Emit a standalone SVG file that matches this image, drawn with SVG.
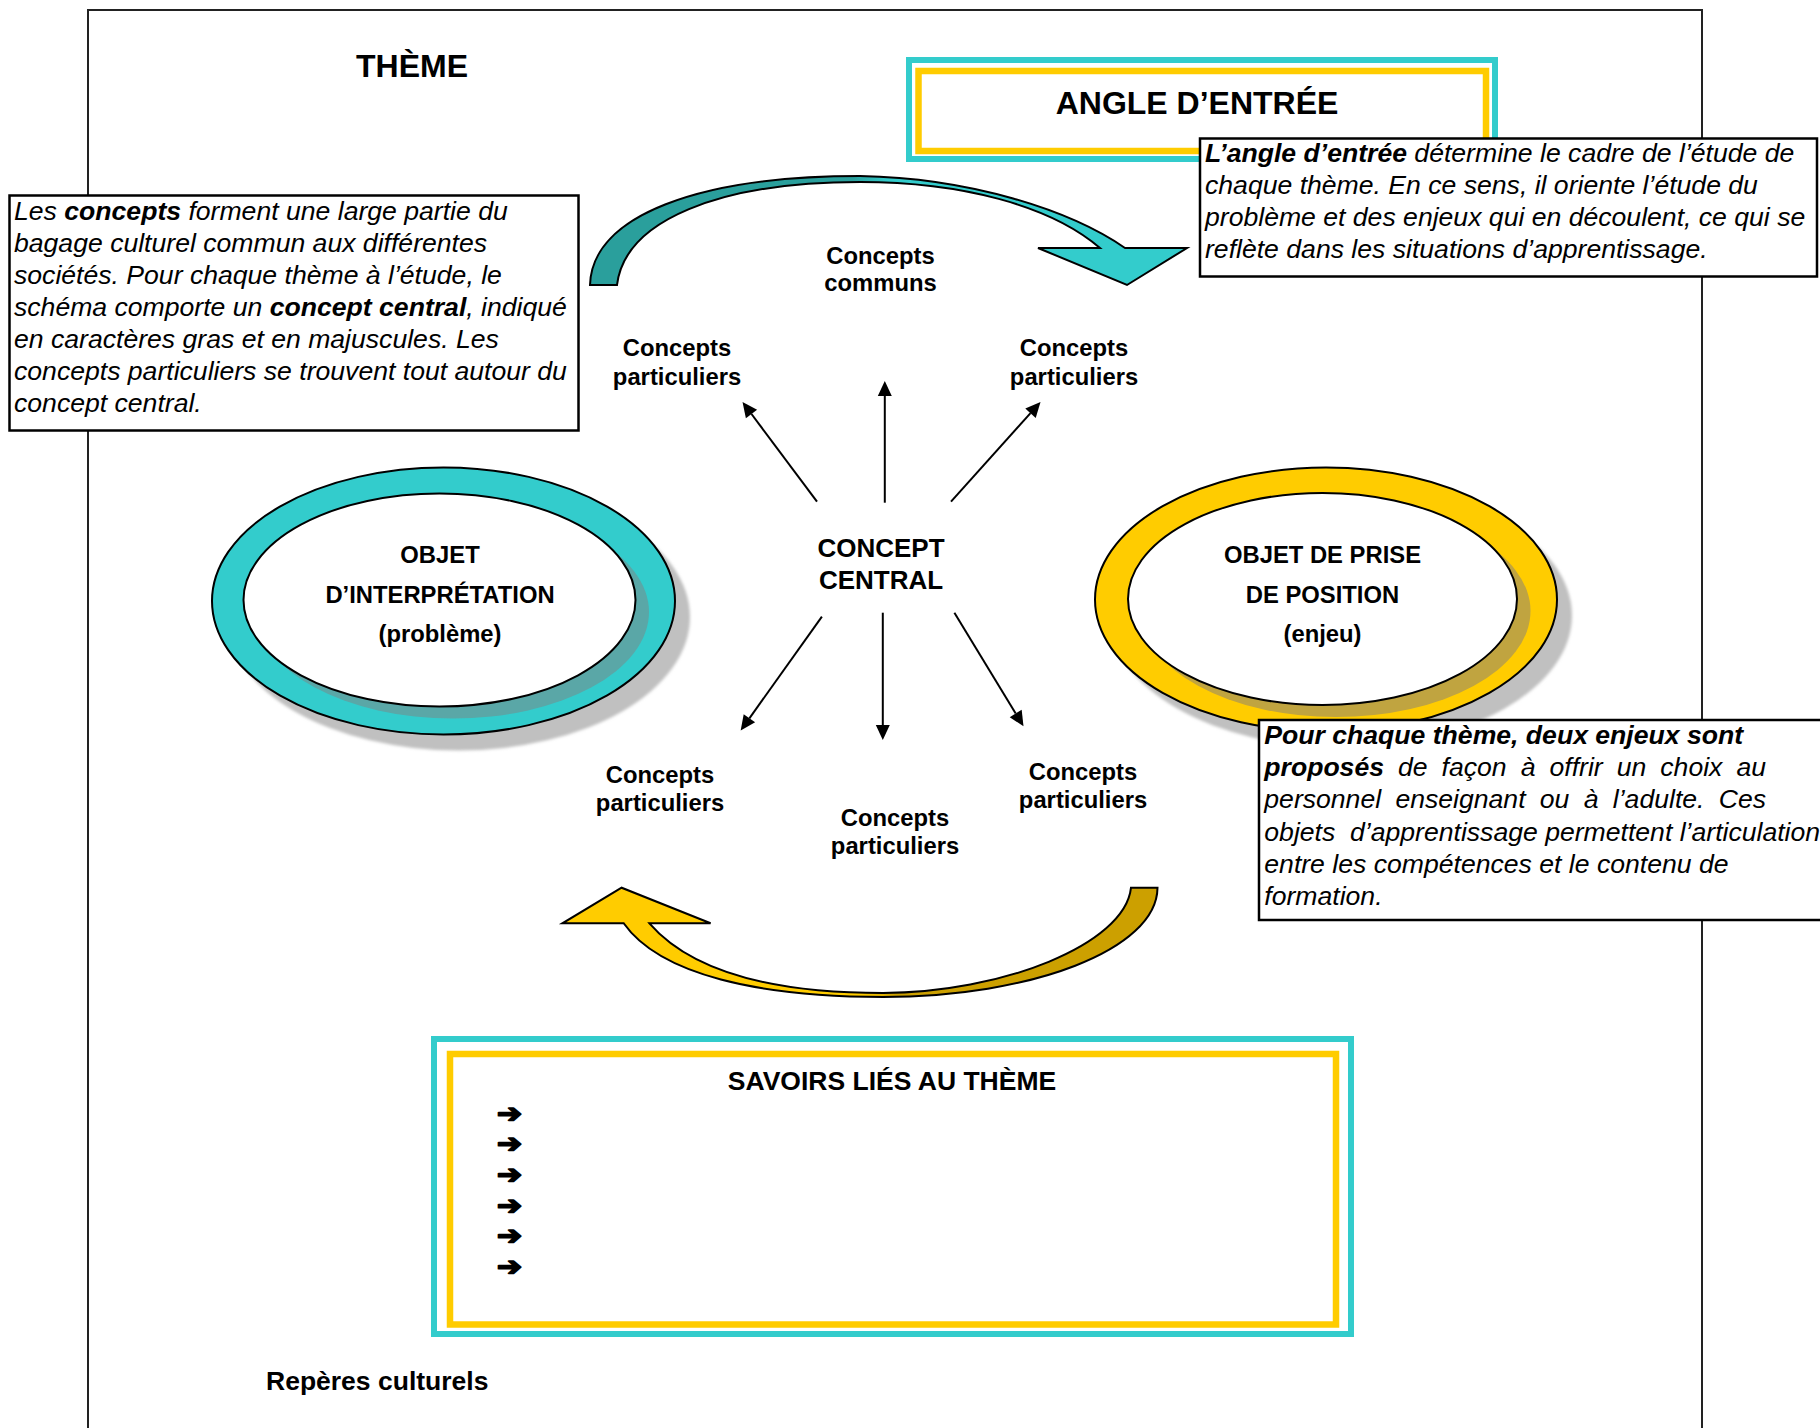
<svg xmlns="http://www.w3.org/2000/svg" width="1820" height="1428" viewBox="0 0 1820 1428">
<style>
.body{font-family:"Liberation Sans",Arial,sans-serif;font-style:italic;font-size:26.6px;fill:#000}
.b{font-weight:bold}
.lbl{font-family:"Liberation Sans",Arial,sans-serif;font-weight:bold;font-size:23.8px;fill:#000;text-anchor:middle}
.big{font-family:"Liberation Sans",Arial,sans-serif;font-weight:bold;font-size:32px;fill:#000;text-anchor:middle}
.h2{font-family:"Liberation Sans",Arial,sans-serif;font-weight:bold;font-size:26.5px;fill:#000}
.box{fill:#fff;stroke:#000;stroke-width:2.5}
.cyanf{fill:none;stroke:#33CCCC;stroke-width:6}
.yelf{fill:none;stroke:#FFCC00;stroke-width:6.5}
.ring{stroke:#000;stroke-width:2}
.conn{stroke:#000;stroke-width:2;fill:none;marker-end:url(#ah)}
.bul{font-family:"DejaVu Sans",sans-serif;font-weight:bold;font-size:25.5px;fill:#000;stroke:#000;stroke-width:1.8;stroke-linejoin:round}
</style>
<defs>
<marker id="ah" markerUnits="userSpaceOnUse" markerWidth="15" markerHeight="14" refX="0" refY="7" orient="auto" overflow="visible">
<path d="M0,0 L15,7 L0,14 Z" fill="#000"/>
</marker>
<linearGradient id="gTop" gradientUnits="userSpaceOnUse" x1="590" y1="0" x2="1187" y2="0">
<stop offset="0" stop-color="#2A9F9C"/><stop offset="0.44" stop-color="#2A9F9C"/><stop offset="0.5" stop-color="#33CCCC"/><stop offset="1" stop-color="#33CCCC"/>
</linearGradient>
<linearGradient id="gBot" gradientUnits="userSpaceOnUse" x1="562" y1="0" x2="1158" y2="0">
<stop offset="0" stop-color="#FFCC00"/><stop offset="0.5" stop-color="#FFCC00"/><stop offset="0.56" stop-color="#CCA000"/><stop offset="1" stop-color="#CCA000"/>
</linearGradient>
<filter id="soft" x="-10%" y="-10%" width="120%" height="120%"><feGaussianBlur stdDeviation="1.5"/></filter>
</defs>

<rect id="frame" x="88" y="10" width="1614" height="1440" fill="#fff" stroke="#222" stroke-width="2"/>

<g id="theme"><text class="big" x="412" y="77">THÈME</text></g>

<g id="angle">
<rect class="cyanf" x="909" y="60" width="586" height="99"/>
<rect class="yelf" x="918.5" y="71" width="567.5" height="80"/>
<text class="big" x="1197" y="114">ANGLE D’ENTRÉE</text>
</g>

<g id="angle-note">
<rect class="box" x="1200" y="138.5" width="617" height="138"/>
<text class="body" x="1205" y="161.5"><tspan class="b">L’angle d’entrée</tspan> détermine le cadre de l’étude de</text>
<text class="body" x="1205" y="193.5">chaque thème. En ce sens, il oriente l’étude du</text>
<text class="body" x="1205" y="225.5">problème et des enjeux qui en découlent, ce qui se</text>
<text class="body" x="1205" y="257.5">reflète dans les situations d’apprentissage.</text>
</g>

<g id="concepts-note">
<rect class="box" x="9.5" y="195.5" width="569" height="235"/>
<text class="body" x="14" y="219.5">Les <tspan class="b">concepts</tspan> forment une large partie du</text>
<text class="body" x="14" y="251.6">bagage culturel commun aux différentes</text>
<text class="body" x="14" y="283.7">sociétés. Pour chaque thème à l’étude, le</text>
<text class="body" x="14" y="315.8">schéma comporte un <tspan class="b">concept central</tspan>, indiqué</text>
<text class="body" x="14" y="347.9">en caractères gras et en majuscules. Les</text>
<text class="body" x="14" y="380">concepts particuliers se trouvent tout autour du</text>
<text class="body" x="14" y="412.1">concept central.</text>
</g>

<g id="arrow-top">
<path d="M590,285 C592,215 700,176 860,176 C970,178 1070,210 1125,248 L1187,248 L1127,285 L1038,248 L1100,248 C1050,205 960,182 860,182 C720,182 625,220 617,285 Z" fill="url(#gTop)" stroke="#000" stroke-width="2" stroke-linejoin="miter"/>
</g>

<g id="objet-interpretation">
<ellipse cx="458.5" cy="617" rx="231.5" ry="133.5" fill="#C0C0C0" filter="url(#soft)"/>
<ellipse class="ring" cx="443.5" cy="601" rx="231.5" ry="133.5" fill="#33CCCC"/>
<ellipse cx="453" cy="612" rx="196" ry="106.5" fill="#5AA7A7"/>
<ellipse class="ring" cx="439.5" cy="600" rx="196" ry="106.5" fill="#fff"/>
<text class="lbl" x="440" y="563">OBJET</text>
<text class="lbl" x="440" y="603">D’INTERPRÉTATION</text>
<text class="lbl" x="440" y="642">(problème)</text>
</g>

<g id="objet-position">
<ellipse cx="1341" cy="615.5" rx="231" ry="132" fill="#C0C0C0" filter="url(#soft)"/>
<ellipse class="ring" cx="1326" cy="599.5" rx="231" ry="132" fill="#FFCC00"/>
<ellipse cx="1336" cy="611" rx="194.5" ry="106" fill="#C0A440"/>
<ellipse class="ring" cx="1322.5" cy="599" rx="194.5" ry="106" fill="#fff"/>
<text class="lbl" x="1322.5" y="563">OBJET DE PRISE</text>
<text class="lbl" x="1322.5" y="603">DE POSITION</text>
<text class="lbl" x="1322.5" y="642">(enjeu)</text>
</g>

<g id="concept-central">
<text class="lbl" style="font-size:26px" x="881" y="557">CONCEPT</text>
<text class="lbl" style="font-size:26px" x="881" y="588.5">CENTRAL</text>
</g>

<g id="concepts-communs">
<text class="lbl" x="880.5" y="263.5">Concepts</text>
<text class="lbl" x="880.5" y="291">communs</text>
</g>
<g id="cp-top-left"><text class="lbl" x="677" y="356">Concepts</text><text class="lbl" x="677" y="385">particuliers</text></g>
<g id="cp-top-right"><text class="lbl" x="1074" y="356">Concepts</text><text class="lbl" x="1074" y="385">particuliers</text></g>
<g id="cp-bottom-left"><text class="lbl" x="660" y="782.5">Concepts</text><text class="lbl" x="660" y="810.5">particuliers</text></g>
<g id="cp-bottom"><text class="lbl" x="895" y="826">Concepts</text><text class="lbl" x="895" y="854">particuliers</text></g>
<g id="cp-bottom-right"><text class="lbl" x="1083" y="779.5">Concepts</text><text class="lbl" x="1083" y="808">particuliers</text></g>

<g id="connectors">
<line class="conn" x1="817" y1="501.7" x2="751.5" y2="414"/>
<line class="conn" x1="884.8" y1="502.7" x2="884.8" y2="396"/>
<line class="conn" x1="951" y1="501.7" x2="1030.5" y2="413.2"/>
<line class="conn" x1="821.9" y1="616.7" x2="749.4" y2="718.3"/>
<line class="conn" x1="882.8" y1="612.7" x2="882.8" y2="725"/>
<line class="conn" x1="954.4" y1="612.7" x2="1015.7" y2="713.5"/>
</g>

<g id="enjeux-note">
<rect class="box" x="1259" y="720" width="570" height="200"/>
<text class="body b" x="1264.3" y="744">Pour chaque thème, deux enjeux sont</text>
<text class="body" y="776.2"><tspan class="b" x="1264.3">proposés</tspan><tspan x="1398">de</tspan><tspan x="1441.6">façon</tspan><tspan x="1520.7">à</tspan><tspan x="1549.5">offrir</tspan><tspan x="1616.7">un</tspan><tspan x="1660.3">choix</tspan><tspan x="1736.4">au</tspan></text>
<text class="body" y="808.4"><tspan x="1264.3">personnel</tspan><tspan x="1395.4">enseignant</tspan><tspan x="1539.8">ou</tspan><tspan x="1583.7">à</tspan><tspan x="1612.8">l’adulte.</tspan><tspan x="1718.8">Ces</tspan></text>
<text class="body" y="840.6"><tspan x="1264.3">objets</tspan><tspan x="1350">d’apprentissage permettent l’articulation</tspan></text>
<text class="body" x="1264.3" y="872.8">entre les compétences et le contenu de</text>
<text class="body" x="1264.3" y="905">formation.</text>
</g>

<g id="arrow-bottom">
<path d="M623.7,923.3 C660,975 760,997 883,997 C1030,997 1157,950 1157.5,887.7 L1131,887.7 C1125,945 1000,993 883,993 C770,993 690,970 649.4,923.3 L710.6,923.3 L621.6,887.7 L562.4,923.3 Z" fill="url(#gBot)" stroke="#000" stroke-width="2"/>
</g>

<g id="savoirs">
<rect class="cyanf" x="434" y="1039" width="917" height="295"/>
<rect class="yelf" x="450" y="1054" width="886" height="270.5"/>
<text class="h2" x="892" y="1089.5" text-anchor="middle">SAVOIRS LIÉS AU THÈME</text>
<text class="bul" x="497" y="1121.5" textLength="25" lengthAdjust="spacingAndGlyphs">➔</text>
<text class="bul" x="497" y="1152.2" textLength="25" lengthAdjust="spacingAndGlyphs">➔</text>
<text class="bul" x="497" y="1182.9" textLength="25" lengthAdjust="spacingAndGlyphs">➔</text>
<text class="bul" x="497" y="1213.6" textLength="25" lengthAdjust="spacingAndGlyphs">➔</text>
<text class="bul" x="497" y="1244.3" textLength="25" lengthAdjust="spacingAndGlyphs">➔</text>
<text class="bul" x="497" y="1275" textLength="25" lengthAdjust="spacingAndGlyphs">➔</text>
</g>

<g id="reperes"><text class="h2" x="266" y="1390">Repères culturels</text></g>
</svg>
